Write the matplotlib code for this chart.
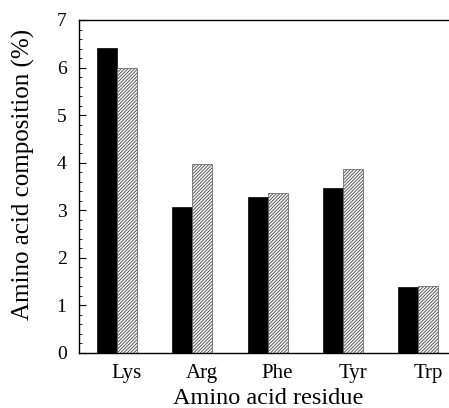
import matplotlib
matplotlib.use("Agg")
import matplotlib.pyplot as plt
from matplotlib.ticker import MultipleLocator
import numpy as np

# Amino acid composition (%)
residues = ["Lys", "Arg", "Phe", "Tyr", "Trp"]
solid_vals = [6.41, 3.07, 3.28, 3.46, 1.39]
hatched_vals = [5.99, 3.97, 3.37, 3.87, 1.40]

plt.rcParams['font.family'] = ['Liberation Serif', 'DejaVu Serif']
plt.rcParams['hatch.linewidth'] = 0.7
plt.rcParams['hatch.color'] = '#222222'

fig = plt.figure(figsize=(4.49, 4.08), dpi=100)
ax = fig.add_axes([0.176, 0.135, 0.822, 0.816])

x = np.arange(len(residues))
w = 0.266
ax.bar(x, solid_vals, width=w, color="black", edgecolor="black", linewidth=0.5)
ax.bar(x + w, hatched_vals, width=w, color="white", edgecolor="#555555",
       hatch="//////////", linewidth=0.5)

ax.set_xlim(-0.37, 4.53)
ax.set_ylim(0, 7)
ax.set_xticks(x + w)
ax.set_xticklabels(residues)
ax.tick_params(axis="x", length=0, labelsize=15, pad=8)
ax.yaxis.set_major_locator(MultipleLocator(1))
ax.yaxis.set_minor_locator(MultipleLocator(0.2))
ax.tick_params(axis="y", which="major", direction="in", length=5, width=0.8,
               labelsize=14, pad=9)
ax.tick_params(axis="y", which="minor", direction="in", length=2.5, width=0.6)

ax.spines["right"].set_visible(False)
for s in ["left", "bottom", "top"]:
    ax.spines[s].set_linewidth(1.0)

ax.set_xlabel("Amino acid residue", fontsize=17.5)
ax.set_ylabel("Amino acid composition (%)", fontsize=18)
ax.xaxis.set_label_coords(0.512, -0.105)
ax.yaxis.set_label_coords(-0.119, 0.535)

plt.savefig("out.png", dpi=100)
